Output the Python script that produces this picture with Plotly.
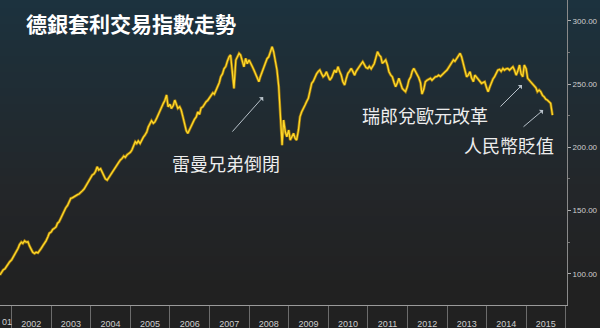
import pandas as pd
import plotly.graph_objects as go

# ---- data (semi-monthly readings of the index, 1st & 15th of each month) ----
start_date = "2001-09-15"
end_date = "2015-09-01"

idx_2001 = [99, 101, 103, 104, 106, 107.5, 109.5]
idx_2002 = [111, 113, 115, 117.4, 120, 123, 125, 124, 126, 125, 125.3, 122,
            119, 117, 116, 117, 116.5, 118.7, 120, 122, 124, 126, 129, 132]
idx_2003 = [133, 135, 136, 137, 140, 141, 144, 147, 149, 152, 154, 157,
            159.6, 160, 161, 162, 162.5, 163, 164, 165.5, 167, 169, 171, 174]
idx_2004 = [176, 178, 179, 181, 184.6, 182, 183, 180, 177, 175, 174, 176,
            178, 180, 182, 184.6, 186, 188, 190, 191, 193, 192, 194, 195]
idx_2005 = [196, 197.8, 201, 204.3, 203, 205, 203, 206, 208, 209.6, 212, 216,
            218.9, 221, 219, 220, 223, 226, 228, 231, 234.7, 237, 241.3, 232]
idx_2006 = [234, 230.7, 233, 237.3, 234, 230.7, 232, 229.4, 224, 219, 213, 211,
            214, 216, 219, 222, 224, 228, 226, 231, 232, 234, 236, 237]
idx_2007 = [239, 241, 243, 242, 245, 247.8, 251, 255.7, 258, 262, 264, 268,
            271.5, 272.9, 258, 246.5, 268.9, 271, 274.2, 272.9, 268, 263.6, 270.3, 266]
idx_2008 = [269, 267, 263.6, 261, 258.4, 255, 251.8, 256, 259.7, 264, 267.6, 270,
            271.5, 275, 279.4, 275.5, 268, 261, 248, 225, 201.7, 221.5, 212, 208.3]
idx_2009 = [213.6, 205.7, 209, 211, 207, 205.7, 213.6, 224, 228, 231, 233.4, 236,
            238.7, 244, 250.5, 252, 255.7, 258, 260, 261, 258, 255.7, 257, 259.7]
idx_2010 = [256, 253.1, 255, 258.4, 261, 259, 263.6, 260, 257, 252, 249.2, 254,
            258.4, 260, 262.3, 260, 257, 260, 262.3, 264, 266, 267.6, 265, 263]
idx_2011 = [262.3, 264, 262, 263.6, 266, 270.3, 275.5, 273, 271.5, 266.3, 268, 269,
            265, 259.7, 257, 255.7, 251, 247.8, 251, 254.5, 250, 246.5, 245, 243.9]
idx_2012 = [248, 253, 255.7, 260, 262.3, 260, 258.4, 255, 251, 242, 246, 251.8,
            253, 254, 254.5, 253, 255, 255.7, 256, 257, 256, 257, 258, 259.7]
idx_2013 = [261, 263, 265, 268, 269, 268, 270.3, 272, 274.2, 271.5, 266, 261,
            255.7, 257, 259.7, 255, 251.8, 257, 255, 253.1, 252, 250.5, 251, 251.8]
idx_2014 = [247, 243.9, 248, 251.8, 254, 255.7, 258, 261, 261.5, 260, 262.3, 261,
            262, 262.3, 261, 262, 263.6, 261, 257, 260, 265, 258, 255.7, 265]
idx_2015 = [262, 254.5, 253, 251.8, 250, 249.2, 247, 243.9, 245.2, 244, 241, 240,
            238, 237.3, 235.5, 234.7, 225.4]

values = (idx_2001 + idx_2002 + idx_2003 + idx_2004 + idx_2005 + idx_2006 + idx_2007
          + idx_2008 + idx_2009 + idx_2010 + idx_2011 + idx_2012 + idx_2013
          + idx_2014 + idx_2015)
dates = pd.date_range(start_date, end_date, freq="SMS")
assert len(dates) == len(values), (len(dates), len(values))

title_text = "德銀套利交易指數走勢"
first_year_label = "01"   # the 2001 label, cut at the left edge in the original
y_ticks = [100, 150, 200, 250, 300]
y_ticktext = ["100.00", "150.00", "200.00", "250.00", "300.00"]

events = [
    # label, label x, label y, arrow head x, head y, tail x, tail y
    ("雷曼兄弟倒閉", "2007-05-30", 187.5, "2008-05-10", 239.7, "2007-07-19", 211.2),
    ("瑞郎兌歐元改革", "2012-06-13", 225.5, "2014-11-24", 249.2, "2014-04-25", 231.0),
    ("人民幣貶值", "2014-07-23", 201.7, "2015-06-07", 229.4, "2014-11-24", 215.2),
]

# ---- figure ----
W, H = 600, 328
ML, MR, MT, MB = 0, 33, 0, 23
PW, PH = W - ML - MR, H - MT - MB

fig = go.Figure()

fig.add_trace(go.Scatter(x=dates, y=values, mode="lines",
                         line=dict(color="#9a7610", width=2.8), hoverinfo="skip"))
fig.add_trace(go.Scatter(x=dates, y=values, mode="lines",
                         line=dict(color="#ffd92a", width=1.3)))

# background gradient (dark teal at top fading to charcoal)
def lerp(a, b, t):
    return tuple(round(a[i] + (b[i] - a[i]) * t) for i in range(3))

top_c, mid_c, bot_c = (28, 50, 62), (35, 38, 41), (33, 33, 33)
band = 8
shapes = []
for y0 in range(0, H, band):
    yc = y0 + band / 2
    if yc < 190:
        c = lerp(top_c, mid_c, yc / 190)
    else:
        c = lerp(mid_c, bot_c, min(1, (yc - 190) / 100))
    shapes.append(dict(type="rect", xref="paper", yref="paper", layer="below",
                       x0=-0.01, x1=W / PW + 0.01,
                       y0=(PH - (y0 + band + 1)) / PH, y1=(PH - y0) / PH,
                       fillcolor="rgb(%d,%d,%d)" % c, line=dict(width=0)))

annotations = [
    dict(text=title_text, xref="paper", yref="paper", x=24 / PW, y=1 - 23 / PH,
         xanchor="left", yanchor="middle", showarrow=False,
         font=dict(family="Noto Sans CJK TC", size=21, color="#ffffff", weight="bold")),
    dict(text=first_year_label, xref="paper", yref="paper", x=0, y=-17 / PH,
         xanchor="left", yanchor="middle", showarrow=False,
         font=dict(family="Liberation Sans", size=9, color="#cfcfcf")),
]
for lab, lx, ly, hx, hy, tx, ty in events:
    annotations.append(dict(text=lab, x=lx, y=ly, xref="x", yref="y", showarrow=False,
                            xanchor="center", yanchor="middle",
                            font=dict(family="Noto Sans CJK TC", size=18, color="#ededed")))
    annotations.append(dict(text="", x=hx, y=hy, xref="x", yref="y",
                            ax=tx, ay=ty, axref="x", ayref="y", showarrow=True,
                            arrowhead=1, arrowsize=1, arrowwidth=1, arrowcolor="#b8c2ca"))

fig.update_layout(
    width=W, height=H,
    margin=dict(l=ML, r=MR, t=MT, b=MB),
    paper_bgcolor="#222222", plot_bgcolor="rgba(0,0,0,0)",
    showlegend=False, shapes=shapes, annotations=annotations,
    xaxis=dict(type="date", range=["2001-09-16", "2016-01-13"],
               tick0="2001-07-02", dtick="M12", tickformat="%Y",
               ticks="outside", ticklen=10, tickcolor="rgba(0,0,0,0)",
               tickfont=dict(family="Liberation Sans", size=9, color="#cfcfcf"),
               showgrid=False, zeroline=False, showline=True, linecolor="#9a9a9a",
               linewidth=1,
               minor=dict(tick0="2002-01-01", dtick="M12", ticks="outside", ticklen=23,
                          tickcolor="#6c6c6c", tickwidth=1, showgrid=False)),
    yaxis=dict(side="right", range=[75.3, 316.4], tickvals=y_ticks, ticktext=y_ticktext,
               ticks="outside", ticklen=3, tickcolor="#b0b0b0", ticklabelstandoff=0,
               tickfont=dict(family="Liberation Sans", size=8, color="#cfcfcf"),
               showgrid=False, zeroline=False, showline=True, linecolor="#8a8a8a",
               linewidth=1,
               minor=dict(dtick=25, tick0=0, ticks="outside", ticklen=2,
                          tickcolor="#777777", showgrid=False)),
)

fig.write_html("out.html")
